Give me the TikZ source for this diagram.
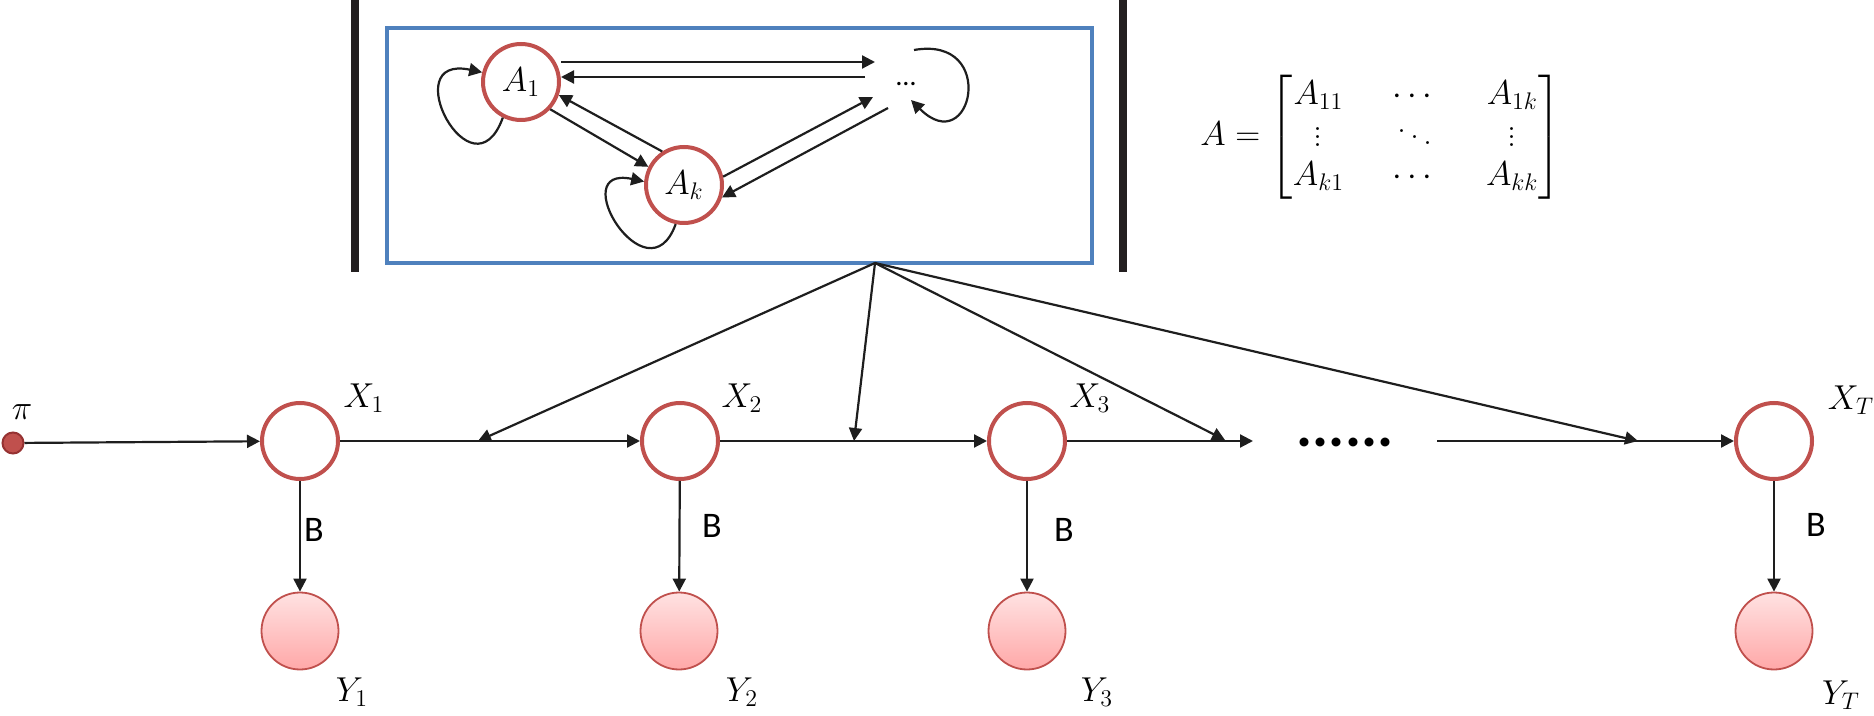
\documentclass[tikz,border=0pt]{standalone}
\usepackage{amsmath}
\usepackage{fontspec}
\newfontfamily\calibri{Carlito}
\usetikzlibrary{arrows.meta,calc}
\definecolor{redc}{RGB}{192,80,77}
\definecolor{reddark}{RGB}{150,50,50}
\definecolor{bluec}{RGB}{79,129,189}
\definecolor{pinkTop}{RGB}{255,226,226}
\definecolor{pinkBot}{RGB}{255,168,168}
\definecolor{linec}{RGB}{30,30,30}
\definecolor{barc}{RGB}{35,31,32}
\begin{document}
\begin{tikzpicture}[x=0.5pt,y=0.5pt,
  arr/.style={draw=linec, line width=1.1pt, -{Triangle[length=6.5pt,width=6.5pt]}},
  hnode/.style={circle, draw=redc, line width=2pt, minimum size=38pt, inner sep=0pt, fill=white},
  anode/.style={hnode, font=\fontsize{18}{20}\selectfont},
  ynode/.style={circle, draw=redc, line width=0.9pt, minimum size=38.5pt, inner sep=0pt, top color=pinkTop, bottom color=pinkBot},
  lab/.style={inner sep=0pt, font=\fontsize{17}{20}\selectfont},
  blab/.style={inner sep=0pt, font=\calibri\fontsize{18}{20}\selectfont},
  bar/.style={line width=4pt, draw=barc}
]
\useasboundingbox (0,0) rectangle (1874,-716);

% bars and box
\draw[bar] (355,0) -- (355,-272);
\draw[bar] (1123,0) -- (1123,-272);
\node[draw=bluec, line width=2pt, minimum width=352.5pt, minimum height=117.5pt, inner sep=0pt] (box) at (739.5,-145.5) {};

% inner state graph
\node[anode] (A1) at (521,-82) {$A_1$};
\node[anode] (Ak) at (684,-185) {$A_k$};
\node[inner sep=0pt, anchor=base, font=\calibri\fontsize{14}{16}\selectfont] (dd) at (906,-86) {\ldots};
\coordinate (dIn1) at (875,-62);
\coordinate (dOut1) at (865,-77);
\coordinate (dIn2) at (873,-97);
\coordinate (dOut2) at (888,-108);
\coordinate (dLs) at (914,-50);
\coordinate (dLe) at (911,-100);

\draw[arr] ([yshift=10pt]A1.east) -- (dIn1);
\draw[arr] (dOut1) -- ([yshift=2.5pt]A1.east);
\draw[arr] (A1.-43) -- (Ak.153);
\draw[arr] (Ak.123) -- (A1.-19);
\draw[arr] (Ak.12) -- (dIn2);
\draw[arr] (dOut2) -- (Ak.-18);
\draw[arr] (A1.243) to[out=250, in=168, looseness=4.6] (A1.166);
\draw[arr] (Ak.258) to[out=250, in=168, looseness=4.0] (Ak.175);
\draw[arr] (dLs) to[out=10, in=-45, looseness=4.4] (dLe);

% matrix
\node[anchor=west, inner sep=0pt, font=\fontsize{18}{22.5}\selectfont] (mat) at (1200,-137)
  {\setlength{\arraycolsep}{12pt}\renewcommand{\arraystretch}{0.86}$A=\begin{bmatrix} A_{11} & \cdots & A_{1k}\\ \vdots & \ddots & \vdots\\ A_{k1} & \cdots & A_{kk}\end{bmatrix}$};

% chain
\node[circle, fill=redc, draw=reddark, line width=1pt, minimum size=10.5pt, inner sep=0pt] (pi) at (13,-443) {};
\node[lab] (lpi) at (22,-412) {$\pi$};

\node[hnode] (X1) at (300,-441) {};
\node[hnode] (X2) at (680,-441) {};
\node[hnode] (X3) at (1027,-441) {};
\node[hnode] (XT) at (1774,-441) {};
\node[ynode] (Y1) at (300,-631) {};
\node[ynode] (Y2) at (679,-631) {};
\node[ynode] (Y3) at (1027,-631) {};
\node[ynode] (YT) at (1774,-631) {};

\node[lab] (lx1) at (364,-398) {$X_1$};
\node[lab] (lx2) at (742,-398) {$X_2$};
\node[lab] (lx3) at (1090,-398) {$X_3$};
\node[lab] (lxT) at (1851,-400) {$X_T$};
\node[lab] (ly1) at (352,-692) {$Y_1$};
\node[lab] (ly2) at (742,-692) {$Y_2$};
\node[lab] (ly3) at (1097,-692) {$Y_3$};
\node[lab] (lyT) at (1841,-695) {$Y_T$};

\node[blab] (b1) at (314,-530) {B};
\node[blab] (b2) at (712,-526) {B};
\node[blab] (b3) at (1064,-530) {B};
\node[blab] (bT) at (1816,-525) {B};

\draw[arr] (pi) -- (X1);
\draw[arr] (X1) -- (X2);
\draw[arr] (X2) -- (X3);
\coordinate (e3) at (1253,-441);
\coordinate (s4) at (1437,-441);
\draw[arr] (X3) -- (e3);
\draw[arr] (s4) -- (XT);
\node[inner sep=0pt, anchor=base, font=\calibri\bfseries\fontsize{30}{30}\selectfont] (ell) at (1345,-447) {......};

\draw[arr] (X1) -- (Y1);
\draw[arr] (X2) -- (Y2);
\draw[arr] (X3) -- (Y3);
\draw[arr] (XT) -- (YT);

% fan from the transition box
\coordinate (src) at (875,-263);
\coordinate (t1) at (478,-441);
\coordinate (t2) at (854,-441);
\coordinate (t3) at (1225,-440);
\coordinate (t4) at (1638,-441);
\draw[arr] (src) -- (t1);
\draw[arr] (src) -- (t2);
\draw[arr] (src) -- (t3);
\draw[arr] (src) -- (t4);
\end{tikzpicture}
\end{document}
